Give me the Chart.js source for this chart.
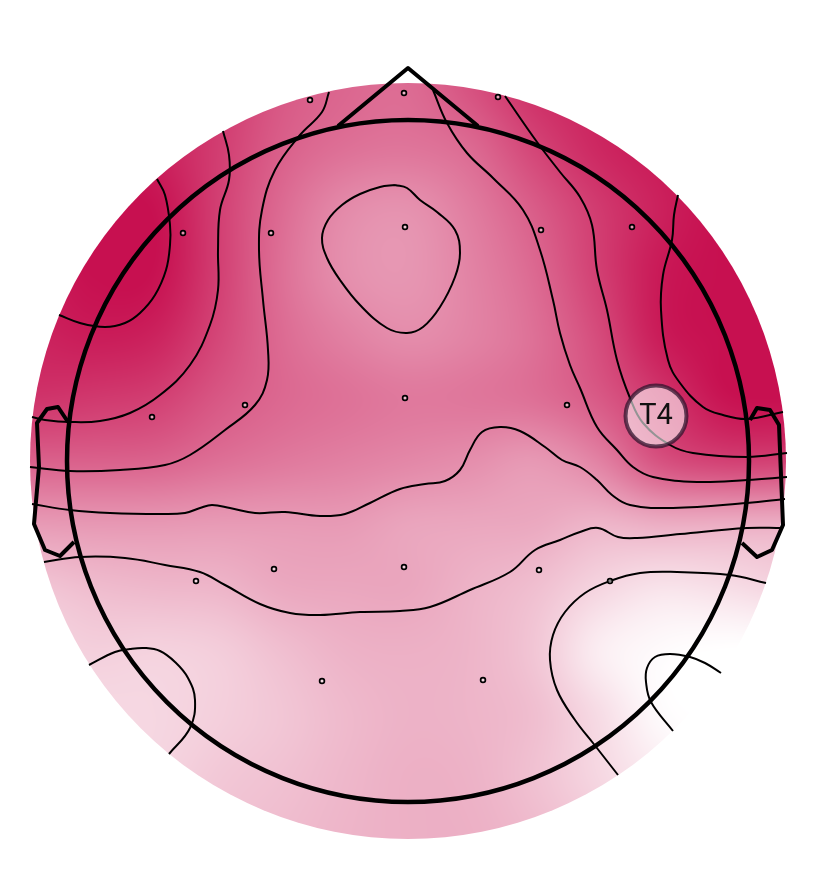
<!DOCTYPE html>
<html><head><meta charset="utf-8">
<style>html,body{margin:0;padding:0;background:#fff}canvas{display:block}</style>
<script src="https://cdn.jsdelivr.net/npm/chart.js@4/dist/chart.umd.min.js"></script>
</head><body><canvas id="c" width="816" height="870"></canvas>
<script>
// Electrodes (head-centred coordinates, y up)
const channels = ['Fp1','Fpz','Fp2','F7','F3','Fz','F4','F8','T3','C3','Cz','C4','T5','P3','Pz','P4','T6','O1','O2'];
const channelX = [-98,-4,90,-225,-137,-3,133,224,-256,-163,-3,159,-212,-134,-4,131,202,-86,75];
const channelY = [361,368,364,228,228,234,231,234,44,56,63,56,-120,-108,-106,-109,-120,-220,-219];
const activeChannel = {label:'T4', x:248, y:45};

// Field estimate (percent of the colour scale), nodes every 63 units
const gridX = [-378,-315,-252,-189,-126,-63,0,63,126,189,252,315,378];
const gridY = [378,315,252,189,126,63,0,-63,-126,-189,-252,-315,-378];
const field = [
 [90,92,93,83,70,64,62,73,87,92,96,100,100],
 [100,100,93,81,67,60,58,63,78,90,96,100,100],
 [100,100,99,80,62,49,46,55,68,82,93,100,100],
 [95,100,99,80,60,47,44,52,63,80,96,100,100],
 [92,95,92,77,62,53,48,52,60,75,95,100,100],
 [85,83,80,70,63,59,56,57,60,69,84,98,100],
 [66,66,65,60,56,53,50,47,43,52,72,79,79],
 [42,43,43,42,42,42,38,37,36,31,34,34,34],
 [24,28,30,31,36,37,37,32,27,18,12,14,18],
 [17,20,19,21,27,32,33,31,24,8,2,0,0],
 [14,16,17,20,24,29,32,31,27,15,2,0,0],
 [14,16,18,23,26,30,33,32,26,17,8,0,0],
 [16,18,20,25,28,31,33,33,29,22,12,5,0]
];

// Contours
const contourA = [[-251,282],[-243,266],[-238,236],[-238,216],[-242,191],[-253,166],[-268,148],[-283,138],[-303,134],[-328,138],[-349,146]];
const contourB = [[-185,330],[-179,306],[-179,281],[-188,251],[-190,211],[-190,171],[-198,136],[-218,96],[-248,66],[-278,48],[-308,40],[-338,39],[-363,41],[-376,44]];
const contourC = [[-79,369],[-86,349],[-108,326],[-133,291],[-146,251],[-149,211],[-145,161],[-140,111],[-141,81],[-153,56],[-183,31],[-218,6],[-243,-4],[-288,-9],[-338,-10],[-378,-6]];
const contourD = [[-376,-43],[-338,-49],[-298,-52],[-248,-53],[-223,-52],[-208,-47],[-196,-44],[-178,-47],[-153,-52],[-123,-51],[-88,-55],[-63,-53],[-38,-42],[-8,-28],[17,-23],[37,-20],[52,-9],[62,11],[74,29],[92,34],[112,30],[137,14],[154,1],[172,-6],[189,-19],[204,-34],[222,-44],[265,-47],[339,-42],[377,-38]];
const contourE = [[-364,-101],[-328,-96],[-283,-97],[-243,-104],[-208,-111],[-183,-124],[-148,-143],[-118,-152],[-88,-154],[-48,-151],[-8,-150],[22,-146],[62,-129],[102,-111],[127,-89],[152,-79],[172,-71],[190,-67],[210,-76],[229,-77],[272,-73],[339,-67],[374,-67]];
const contourF = [[-319,-204],[-293,-191],[-278,-188],[-263,-187],[-248,-190],[-233,-201],[-220,-217],[-213,-239],[-218,-267],[-239,-293]];
const contourG = [[358,-122],[322,-114],[269,-111],[232,-112],[202,-120],[177,-132],[157,-151],[145,-174],[142,-199],[149,-229],[167,-259],[185,-282],[210,-314]];
const contourH = [[313,-212],[297,-202],[282,-196],[262,-193],[247,-196],[239,-207],[238,-221],[243,-241],[265,-270]];
const contourI = [[-13,276],[-28,274],[-48,267],[-66,256],[-80,241],[-86,223],[-81,203],[-68,181],[-48,156],[-21,133],[-1,128],[15,134],[32,154],[47,184],[52,208],[47,231],[29,249],[12,261],[-1,273],[-13,276]];
const contourJ = [[25,371],[39,338],[59,308],[85,283],[115,251],[132,211],[145,161],[152,128],[162,96],[172,73],[189,34],[209,11],[225,-6],[245,-16],[289,-21],[339,-19],[379,-16]];
const contourK = [[97,365],[129,319],[152,289],[172,264],[184,236],[189,191],[199,151],[209,101],[222,63],[235,38],[262,16],[285,8],[339,4],[379,8]];
const contourL = [[270,266],[266,246],[264,221],[255,186],[253,151],[260,101],[272,78],[295,54],[315,46],[339,42],[375,49]];
const contours = [contourA,contourB,contourC,contourD,contourE,contourF,contourG,contourH,contourI,contourJ,contourK,contourL];

// Head outline
const nose = [[-70,335],[0,393],[70,335]];
const leftEar = [[-340,39],[-350,54],[-361,52],[-371,38],[-369,-6],[-374,-63],[-363,-89],[-348,-95],[-334,-81]];
const rightEar = [[342,41],[349,53],[362,51],[371,36],[375,-64],[364,-89],[349,-96],[334,-82]];
const headRadius = 341, fieldRadius = 378;

const low = [255,255,255], high = [199,16,80];
const pts = a => a.map(p => ({x:p[0], y:p[1]}));
const cr = (a,b,c,d,t) => b + 0.5*t*(c-a + t*(2*a-5*b+4*c-d + t*(3*(b-c)+d-a)));

function sample(x,y){
  const stepX = gridX[1]-gridX[0], stepY = gridY[0]-gridY[1];
  const n = gridX.length-1, m = gridY.length-1;
  const fx = Math.max(0,Math.min(n-1e-6,(x-gridX[0])/stepX));
  const fy = Math.max(0,Math.min(m-1e-6,(gridY[0]-y)/stepY));
  const i = Math.floor(fx), j = Math.floor(fy), tx = fx-i, ty = fy-j;
  const rowAt = r => {
    const R = field[Math.max(0,Math.min(m,r))];
    const g = c => R[Math.max(0,Math.min(n,c))];
    return cr(g(i-1),g(i),g(i+1),g(i+2),tx);
  };
  return cr(rowAt(j-1),rowAt(j),rowAt(j+1),rowAt(j+2),ty);
}

const fieldPlugin = {
  id:'field',
  beforeDatasetsDraw(chart){
    const sx = chart.scales.x, sy = chart.scales.y, ctx = chart.ctx;
    const cx = sx.getPixelForValue(0), cy = sy.getPixelForValue(0);
    const r = Math.abs(sx.getPixelForValue(fieldRadius)-cx);
    const x0 = Math.floor(cx-r)-1, y0 = Math.floor(cy-r)-1, w = Math.ceil(2*r)+3, h = w;
    const off = document.createElement('canvas'); off.width = w; off.height = h;
    const oc = off.getContext('2d'), img = oc.createImageData(w,h), d = img.data;
    for(let py=0;py<h;py++){
      const dy = sy.getValueForPixel(y0+py);
      for(let px=0;px<w;px++){
        const dx = sx.getValueForPixel(x0+px);
        let t = sample(dx,dy)/100; t = Math.max(0,Math.min(1,t));
        const k = (py*w+px)*4;
        d[k]=low[0]+(high[0]-low[0])*t; d[k+1]=low[1]+(high[1]-low[1])*t; d[k+2]=low[2]+(high[2]-low[2])*t; d[k+3]=255;
      }
    }
    oc.putImageData(img,0,0);
    ctx.save();
    ctx.beginPath(); ctx.arc(cx,cy,r,0,Math.PI*2); ctx.clip();
    ctx.drawImage(off,x0,y0);
    ctx.restore();
  },
  afterDatasetsDraw(chart){
    const ctx = chart.ctx;
    ctx.save();
    ctx.font = '29px Roboto';
    ctx.fillStyle = '#111';
    ctx.textAlign = 'center'; ctx.textBaseline = 'middle';
    ctx.fillText(activeChannel.label, chart.scales.x.getPixelForValue(activeChannel.x), chart.scales.y.getPixelForValue(activeChannel.y)+1);
    ctx.restore();
  }
};

const datasets = [];
contours.forEach(c => datasets.push({type:'line',data:pts(c),borderColor:'#000',borderWidth:2,tension:0.4,pointRadius:0,fill:false,order:5,clip:false}));
[nose,leftEar,rightEar].forEach(c => datasets.push({type:'line',data:pts(c),borderColor:'#000',borderWidth:4,tension:0,pointRadius:0,fill:false,order:4,clip:false,borderJoinStyle:'round'}));
datasets.push({type:'scatter',data:[{x:0,y:0}],pointRadius:headRadius,pointBackgroundColor:'rgba(0,0,0,0)',pointBorderColor:'#000',pointBorderWidth:4.5,order:3,clip:false});
datasets.push({type:'scatter',data:channelX.map((x,i)=>({x,y:channelY[i]})),pointRadius:2.4,pointBackgroundColor:'rgba(255,255,255,0.5)',pointBorderColor:'#000',pointBorderWidth:1.7,order:2,clip:false});
datasets.push({type:'scatter',data:[{x:activeChannel.x,y:activeChannel.y}],pointRadius:30.5,pointBackgroundColor:'rgba(255,255,255,0.58)',pointBorderColor:'rgba(50,20,45,0.75)',pointBorderWidth:4,order:1,clip:false});

new Chart(document.getElementById('c'),{
  data:{datasets},
  plugins:[fieldPlugin],
  options:{
    responsive:false, animation:false, events:[],
    layout:{padding:0,autoPadding:false},
    plugins:{legend:{display:false},tooltip:{enabled:false}},
    scales:{
      x:{type:'linear',min:-408,max:408,display:false},
      y:{type:'linear',min:-409,max:461,display:false}
    }
  }
});
</script></body></html>
